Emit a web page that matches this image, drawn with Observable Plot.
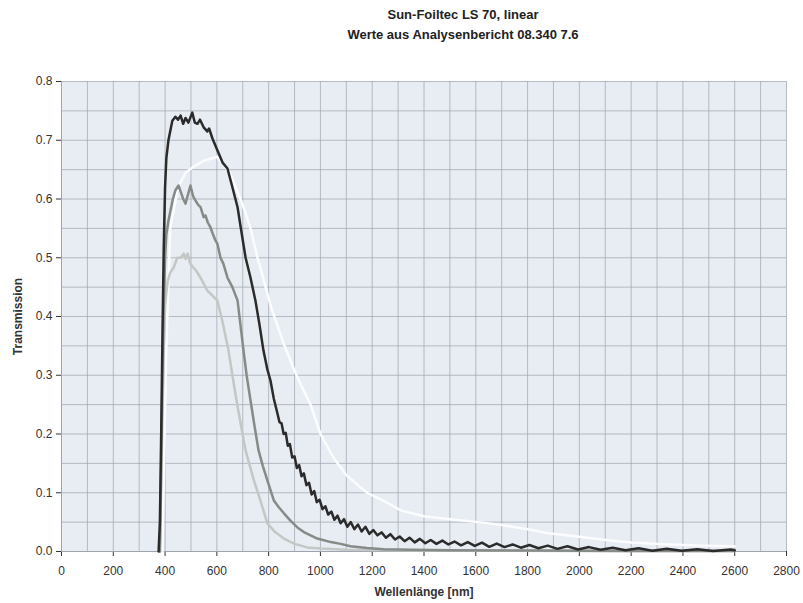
<!DOCTYPE html>
<html><head><meta charset="utf-8">
<script src="https://cdn.jsdelivr.net/npm/d3@7"></script>
<script src="https://cdn.jsdelivr.net/npm/@observablehq/plot@0.6"></script>
<style>
body{margin:0;background:#fff;font-family:"Liberation Sans",Arial,sans-serif;}
#head{position:relative;height:60px;width:803px;}
#head div{position:absolute;left:263px;width:400px;text-align:center;font-weight:bold;font-size:13px;line-height:20px;color:#222;}
</style></head>
<body>
<div id="head"><div id="t1" style="top:5px"></div><div id="t2" style="top:25px"></div></div>
<div id="chart"></div>
<script>
const titleLines = ["Sun-Foiltec LS 70, linear", "Werte aus Analysenbericht 08.340 7.6"];
const xLabel = "Wellenlänge [nm]";
const yLabel = "Transmission";
const xTicks = [0,200,400,600,800,1000,1200,1400,1600,1800,2000,2200,2400,2600,2800];
const yTicks = [0,0.1,0.2,0.3,0.4,0.5,0.6,0.7,0.8];
const xGrid = [0,100,200,300,400,500,600,700,800,900,1000,1100,1200,1300,1400,1500,1600,1700,1800,1900,2000,2100,2200,2300,2400,2500,2600,2700,2800];
const yGrid = [0,0.05,0.1,0.15,0.2,0.25,0.3,0.35,0.4,0.45,0.5,0.55,0.6,0.65,0.7,0.75,0.8];

// Series: white (broad), light grey, mid grey, black
const whiteNm = [390,405,420,450,480,510,550,600,650,700,730,757,776,810,858,911,962,1000,1050,1100,1180,1250,1310,1400,1500,1610,1700,1800,1880,2000,2110,2210,2350,2480,2600];
const whiteT  = [0,0.35,0.55,0.62,0.645,0.655,0.665,0.672,0.645,0.59,0.55,0.5,0.47,0.415,0.354,0.296,0.25,0.2,0.16,0.13,0.1,0.085,0.07,0.06,0.055,0.05,0.045,0.038,0.031,0.025,0.019,0.015,0.012,0.01,0.009];

const lightNm = [380,385,390,395,400,410,420,433,447,460,472,480,487,497,510,520,537,550,563,580,602,620,645,660,676,695,711,728,743,768,795,825,859,900,949,1000,1100,1300,1600,2000,2600];
const lightT  = [0,0.12,0.25,0.35,0.42,0.46,0.475,0.483,0.5,0.5,0.507,0.498,0.507,0.49,0.483,0.478,0.466,0.455,0.444,0.437,0.427,0.395,0.342,0.3,0.257,0.21,0.172,0.145,0.121,0.087,0.048,0.033,0.022,0.013,0.007,0.005,0.003,0.002,0.0015,0.001,0.001];

const greyNm = [380,385,390,395,400,405,413,430,440,452,460,470,479,490,498,508,518,528,537,549,556,565,575,585,595,602,614,625,641,660,680,703,715,730,745,761,778,795,820,840,859,885,911,940,988,1040,1078,1116,1180,1244,1350,1500,1800,2200,2600];
const greyT  = [0,0.15,0.3,0.42,0.5,0.54,0.563,0.6,0.615,0.623,0.613,0.6,0.592,0.61,0.623,0.605,0.597,0.59,0.586,0.569,0.572,0.56,0.552,0.54,0.529,0.524,0.5,0.49,0.466,0.45,0.427,0.342,0.3,0.257,0.215,0.172,0.145,0.121,0.087,0.075,0.065,0.052,0.041,0.032,0.022,0.016,0.013,0.009,0.006,0.004,0.003,0.002,0.0015,0.001,0.001];

const blackNm = [375,380,385,390,395,400,405,413,428,440,450,460,470,479,490,505,515,525,535,549,563,570,583,602,622,641,660,680,691,711,730,749,765,780,795,807,820,834,842,
 850,858,866,874,882,891,900,909,918,927,936,946,956,966,976,986,997,1008,1019,1030,1042,1054,1066,1078,1091,1104,1117,1131,1145,1159,1174,1189,1204,1220,1236,1253,1270,1288,1306,1325,1344,1364,1384,1405,1426,1448,1471,1494,1518,1543,1569,1596,1624,1652,1681,1711,1742,1774,1807,1842,1878,1915,1954,1995,2037,2082,2129,2178,2229,2282,2337,2395,2455,2517,2585,2600];
const blackT  = [0,0.05,0.2,0.37,0.52,0.62,0.67,0.70,0.733,0.74,0.735,0.742,0.728,0.738,0.73,0.747,0.73,0.728,0.735,0.722,0.715,0.72,0.703,0.683,0.662,0.652,0.62,0.586,0.555,0.5,0.466,0.427,0.385,0.342,0.31,0.291,0.26,0.235,0.22,
 0.218,0.200,0.202,0.180,0.183,0.160,0.162,0.142,0.147,0.128,0.133,0.113,0.117,0.097,0.103,0.084,0.088,0.072,0.077,0.063,0.068,0.054,0.061,0.048,0.055,0.042,0.050,0.038,0.046,0.034,0.042,0.030,0.0365,0.0275,0.0325,0.0235,0.0295,0.0205,0.0255,0.0175,0.0235,0.0155,0.0215,0.014,0.0195,0.013,0.0185,0.012,0.017,0.0105,0.016,0.0095,0.015,0.008,0.0135,0.0075,0.012,0.0065,0.011,0.0055,0.010,0.0045,0.009,0.0035,0.0075,0.003,0.0065,0.002,0.0055,0.0013,0.0045,0.0013,0.004,0.0008,0.0035,0.002];

document.getElementById("t1").textContent = titleLines[0];
document.getElementById("t2").textContent = titleLines[1];

const toRows = (nm, t) => nm.map((x, i) => ({nm: x, t: t[i]}));
const white = toRows(whiteNm, whiteT);
const light = toRows(lightNm, lightT);
const grey = toRows(greyNm, greyT);
const black = toRows(blackNm, blackT);

const chart = Plot.plot({
  width: 803,
  height: 543,
  marginLeft: 61,
  marginRight: 17,
  marginTop: 21,
  marginBottom: 52,
  style: {fontFamily: "'Liberation Sans', Arial, sans-serif", fontSize: "12px", color: "#333", background: "#fff"},
  x: {domain: [0, 2800]},
  y: {domain: [0, 0.8]},
  marks: [
    Plot.frame({fill: "#e8ecf3", stroke: "none"}),
    Plot.gridX(xGrid, {stroke: "#9ea4ad", strokeOpacity: 0.7, strokeWidth: 1}),
    Plot.gridY(yGrid, {stroke: "#9ea4ad", strokeOpacity: 0.7, strokeWidth: 1}),
    Plot.axisX(xTicks, {tickSize: 5, tickPadding: 10, tickFormat: d => String(d), label: xLabel, labelArrow: "none", labelAnchor: "center", labelOffset: 44}),
    Plot.axisY(yTicks, {tickSize: 5, tickPadding: 4, tickFormat: d3.format(".1f"), label: yLabel, labelArrow: "none", labelAnchor: "center", labelOffset: 48}),
    Plot.ruleY([0], {stroke: "#9ea4ad"}),
    Plot.ruleX([0], {stroke: "#9ea4ad"}),
    Plot.line(white, {x: "nm", y: "t", stroke: "#fbfcfd", strokeWidth: 2.5}),
    Plot.line(light, {x: "nm", y: "t", stroke: "#c3c7c6", strokeWidth: 2.5}),
    Plot.line(grey, {x: "nm", y: "t", stroke: "#868b88", strokeWidth: 2.5}),
    Plot.line(black, {x: "nm", y: "t", stroke: "#2b2b2b", strokeWidth: 2.5})
  ]
});
chart.querySelectorAll("[aria-label='x-axis label'] text, [aria-label='y-axis label'] text").forEach(t => {
  t.style.fontWeight = "bold"; t.style.fill = "#333";
  t.textContent = t.textContent.replace(/\s*[→←↑↓]\s*/g, "");
});
document.getElementById("chart").appendChild(chart);
</script>
</body></html>
